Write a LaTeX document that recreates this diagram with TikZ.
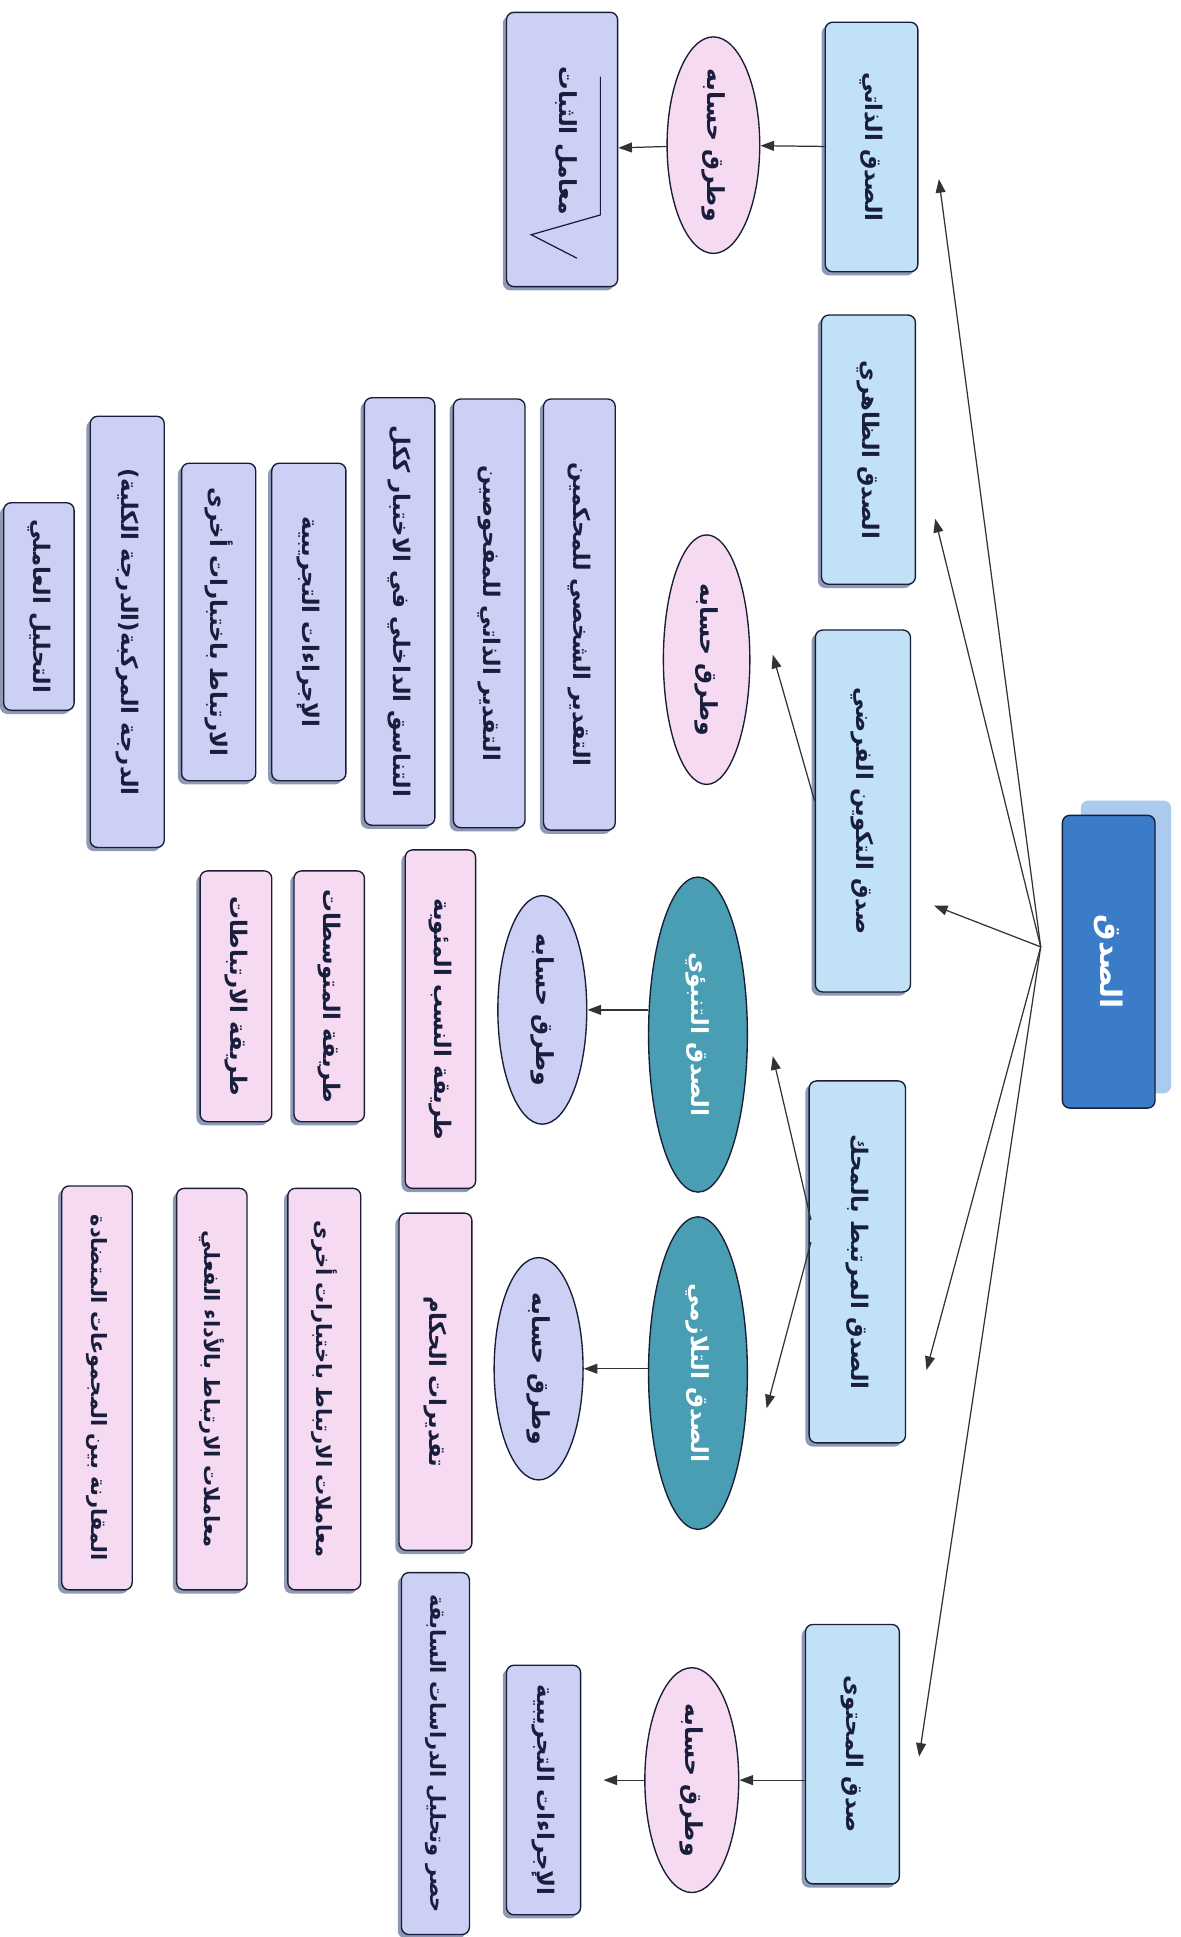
\documentclass[tikz,border=0pt]{standalone}
\usepackage{fontspec}
\newfontfamily\arfont[Script=Arabic]{DejaVu Sans}
\TeXXeTstate=1
\usetikzlibrary{shapes.geometric,arrows.meta,calc,shadows}
\definecolor{lblue}{RGB}{193,226,246}
\definecolor{lav}{RGB}{204,208,245}
\definecolor{pinkc}{RGB}{246,218,242}
\definecolor{tealc}{RGB}{74,158,180}
\definecolor{rootc}{RGB}{58,124,200}
\definecolor{rootbgc}{RGB}{172,202,238}
\definecolor{linec}{RGB}{25,30,55}
\definecolor{arrc}{RGB}{50,50,55}
\definecolor{textc}{RGB}{25,30,60}
\definecolor{shadc}{RGB}{95,110,150}
\newcommand{\artxt}[1]{\beginR #1\endR}
\begin{document}
\begin{tikzpicture}[x=1pt,y=-1pt,
  sz/.style 2 args={minimum width=#2pt, minimum height=#1pt},
  base/.style={draw=linec, line width=1.1pt, rounded corners=6pt, rotate=-90, inner sep=1pt,
    font=\arfont\bfseries\fontsize{18.5}{22}\selectfont, text=textc,
    drop shadow={shadow xshift=-3pt,shadow yshift=-3pt,fill=shadc,opacity=0.7}},
  small/.style={font=\arfont\bfseries\fontsize{17}{20}\selectfont},
  lbox/.style={base, fill=lblue},
  vbox/.style={base, fill=lav},
  pbox/.style={base, fill=pinkc},
  ell/.style={ellipse, draw=linec, line width=1.1pt, rotate=-90, inner sep=0pt,
    font=\arfont\bfseries\fontsize{19}{22}\selectfont, text=textc},
  pell/.style={ell, fill=pinkc},
  vell/.style={ell, fill=lav},
  tell/.style={ell, fill=tealc, text=white},
  arr/.style={-{Triangle[length=11pt,width=8pt]}, line width=1pt, draw=arrc},
]
\fill[white] (0,0) rectangle (956,1568);
\useasboundingbox (0,0) rectangle (956,1568);

% root
\node[rounded corners=6pt, fill=rootbgc, rotate=-90, sz={73}{237}] (rootbg) at (911.5,766.5) {};
\node[draw=linec, line width=1.1pt, rounded corners=6pt, fill=rootc, rotate=-90, text=white,
  font=\arfont\bfseries\fontsize{24}{27}\selectfont, sz={75}{237}] (root) at (897.5,778.5) {\artxt{الصدق}};

% level 1
\node[lbox, sz={75}{202}] (B1) at (705.5,119) {\artxt{الصدق الذاتي}};
\node[lbox, sz={76}{218}] (B2) at (703,364) {\artxt{الصدق الظاهري}};
\node[lbox, sz={77}{293}] (B3) at (698.5,656.5) {\artxt{صدق التكوين الفرضي}};
\node[lbox, sz={78}{293}] (B4) at (694,1021.5) {\artxt{الصدق المرتبط بالمحك}};
\node[lbox, sz={76}{210}] (B5) at (690,1420) {\artxt{صدق المحتوى}};

% hub and tips
\coordinate (hub) at ($(root.south)+(-17,-12)$);
\coordinate (t1) at (760,145);
\coordinate (t2) at (757,420);
\coordinate (t3) at (756,733);
\coordinate (t4) at (750,1109);
\coordinate (t5) at (744,1422);
\foreach \t in {t1,t2,t3,t4,t5} \draw[arr] (hub) -- (\t);

% branch 1
\node[pell, sz={75}{155}] (E1) at (577.5,117.5) {\artxt{وطرق حسابه}};
\node[vbox, sz={90}{222}] (R1) at (455,121) {};
\node[rotate=-90, inner sep=0pt, font=\arfont\bfseries\fontsize{19}{22}\selectfont, text=textc] (R1t) at (458,114) {\artxt{معامل الثبات}};
\draw[linec, line width=1pt] (486,62) -- (486,174) -- (430,190) -- (467,209);
\draw[arr] (B1) -- (E1);
\draw[arr] (E1) -- (R1);

% branch 3
\node[pell, sz={70}{202}] (E3) at (572,534) {\artxt{وطرق حسابه}};
\draw[arr] ($(B3.south)+(0,-8)$) -- ($(E3.north)+(18,-4)$);
\node[vbox, sz={58}{349}] (L31) at (469,497.5) {\artxt{التقدير الشخصي للمحكمين}};
\node[vbox, sz={58}{347}] (L32) at (396,496.5) {\artxt{التقدير الذاتي للمفحوصين}};
\node[vbox, sz={57}{346}] (L33) at (323.5,495) {\artxt{التناسق الداخلي في الاختبار ككل}};
\node[vbox, sz={60}{257}] (L34) at (250,503.5) {\artxt{الإجراءات التجريبية}};
\node[vbox, sz={60}{257}] (L35) at (177,503.5) {\artxt{الارتباط باختبارات أخرى}};
\node[vbox, sz={60}{349}] (L36) at (103,511.5) {\artxt{الدرجة المركبة(الدرجة الكلية)}};
\node[vbox, sz={57}{168}] (L37) at (31.5,491) {\artxt{التحليل العاملي}};

% branch 4
\node[tell, sz={80}{255}] (T1) at (565,837.5) {\artxt{الصدق التنبؤي}};
\node[tell, sz={80}{253}] (T2) at (565,1111.5) {\artxt{الصدق التلازمي}};
\draw[arr] ($(B4.south)+(2,-34)$) -- ($(T1.north)+(20,17.5)$);
\draw[arr] ($(B4.south)+(2,-16)$) -- ($(T2.north)+(15,28.5)$);
\node[vell, sz={72}{185}] (V1) at (439,817.5) {\artxt{وطرق حسابه}};
\node[vell, sz={72}{180}] (V2) at (436,1108) {\artxt{وطرق حسابه}};
\draw[arr] (V1.north -| T1.south) -- (V1.north);
\draw[arr] (V2.north -| T2.south) -- (V2.north);
\node[pbox, sz={57}{274}] (P11) at (356.5,825) {\artxt{طريقة النسب المئوية}};
\node[pbox, sz={57}{203}] (P12) at (266.5,806.5) {\artxt{طريقة المتوسطات}};
\node[pbox, sz={58}{203}] (P13) at (191,806.5) {\artxt{طريقة الارتباطات}};
\node[pbox, sz={59}{273}] (P21) at (352.5,1118.5) {\artxt{تقديرات الحكام}};
\node[pbox, small, sz={59}{325}] (P22) at (262.5,1124.5) {\artxt{معاملات الارتباط باختبارات أخرى}};
\node[pbox, small, sz={57}{325}] (P23) at (171.5,1124.5) {\artxt{معاملات الارتباط بالأداء الفعلي}};
\node[pbox, small, sz={57}{327}] (P24) at (78.5,1123.5) {\artxt{المقارنة بين المجموعات المتضادة}};

% branch 5
\node[pell, sz={76}{182}] (E5) at (560,1441) {\artxt{وطرق حسابه}};
\node[vbox, sz={60}{202}] (R5) at (440,1449) {\artxt{الإجراءات التجريبية}};
\node[vbox, small, sz={55}{293}] (R6) at (352.5,1419.5) {\artxt{حصر وتحليل الدراسات السابقة}};
\draw[arr] (E5.north -| B5.south) -- (E5.north);
\draw[arr, shorten >=18pt] (E5.south) -- (E5.south -| R5.north);
\end{tikzpicture}
\end{document}
